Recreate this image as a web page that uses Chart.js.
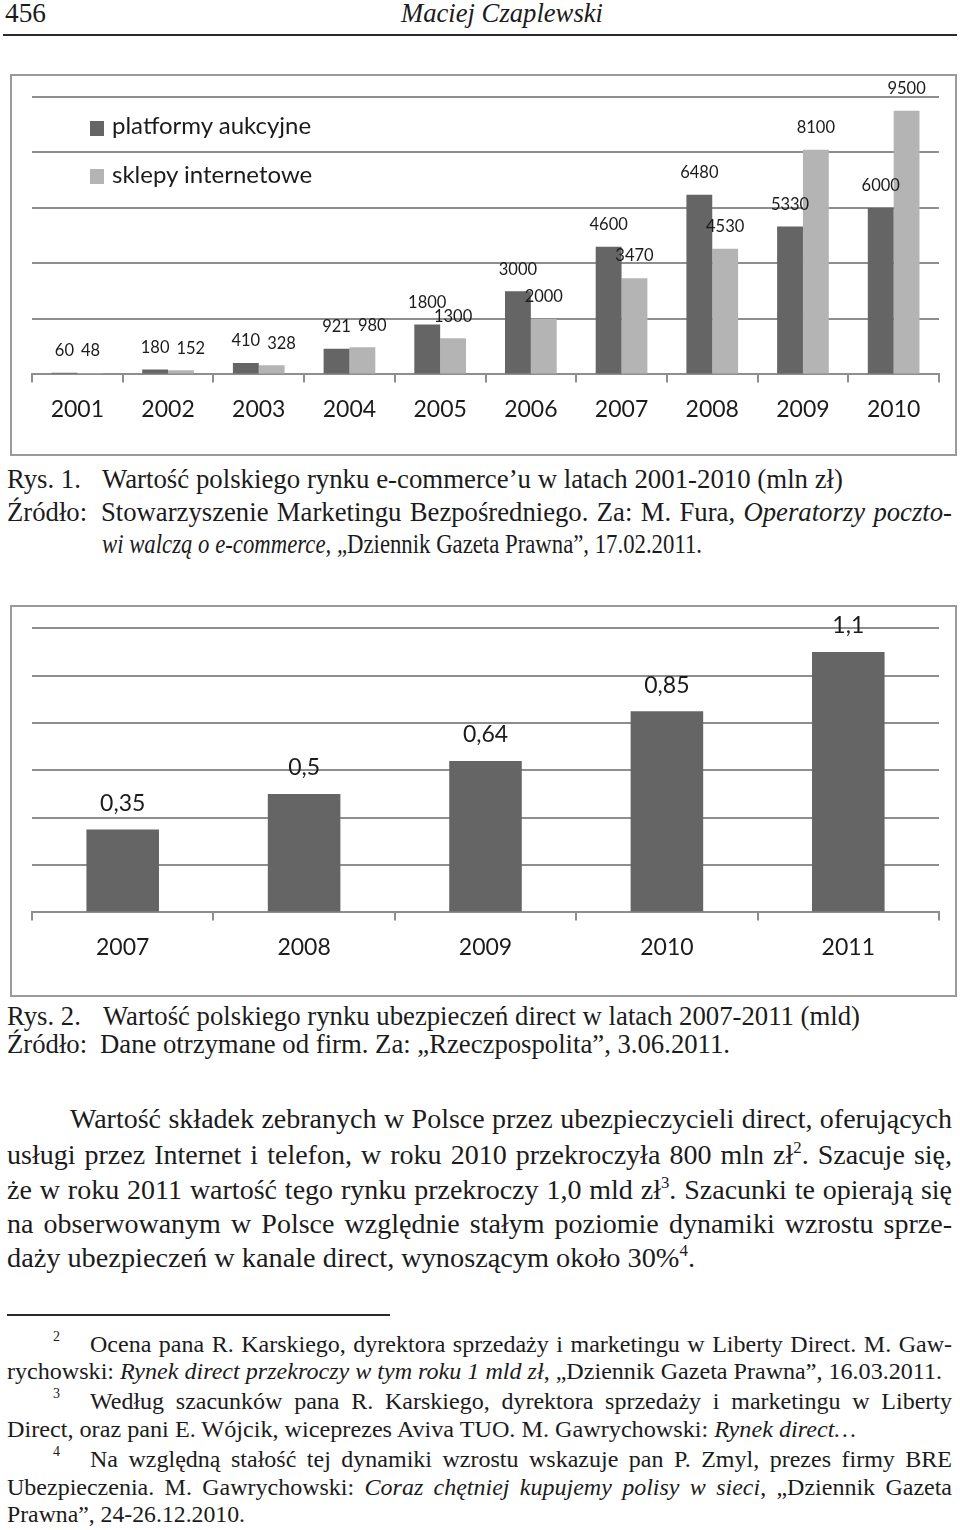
<!DOCTYPE html>
<html lang="pl">
<head>
<meta charset="utf-8">
<script src="https://cdn.jsdelivr.net/npm/chart.js@4"></script>
<style>
body{margin:0;width:960px;height:1530px;position:relative;background:#fff;color:#1b1b1b;font-family:"Liberation Serif",serif;overflow:hidden}
.ln{position:absolute;white-space:nowrap;line-height:1}
.cap{font-size:26.7px}
.txt{font-size:28px}
.fn{font-size:24px}
.fnum{font-size:14px}
sup{font-size:0.6em;vertical-align:0;position:relative;top:-0.6em;line-height:0}
.rule{position:absolute;background:#2a2a2a}
.box{position:absolute;border:2px solid #9a9a9a;box-sizing:border-box}
.cw{position:absolute}
.leg{position:absolute;font-family:Lato,sans-serif;font-size:24px;line-height:28px;height:28px;white-space:nowrap}
.sq{position:absolute;width:14px;height:15px}
</style>
</head>
<body>

<!-- header -->
<div class="ln cap" data-b="22" data-w="41" style="left:5px">456</div>
<div class="ln cap" data-b="22" data-w="202" style="left:401px"><i>Maciej Czaplewski</i></div>
<div class="rule" style="left:3px;top:34px;width:954px;height:2px"></div>

<!-- chart 1 -->
<div class="box" style="left:10px;top:74px;width:947px;height:382px"></div>
<div class="cw" style="left:10px;top:74px;width:947px;height:382px"><canvas id="c1"></canvas></div>
<div class="sq" style="left:90px;top:121px;background:#656566"></div>
<div class="leg" style="left:112px;top:111px">platformy aukcyjne</div>
<div class="sq" style="left:90px;top:169px;background:#b4b4b4"></div>
<div class="leg" style="left:112px;top:160px">sklepy internetowe</div>

<!-- caption 1 -->
<div class="ln cap" data-b="488" style="left:7px">Rys. 1.</div>
<div class="ln cap" data-b="488" data-w="741" style="left:102px">Wartość polskiego rynku e-commerce’u w latach 2001-2010 (mln zł)</div>
<div class="ln cap" data-b="521" style="left:7px">Źródło:</div>
<div class="ln cap" data-b="521" data-w="851" data-m="j" style="left:101px">Stowarzyszenie Marketingu Bezpośredniego. Za: M. Fura, <i>Operatorzy poczto-</i></div>
<div class="ln cap" data-b="553" data-w="600" style="left:102px"><i>wi walczą o e-commerce</i>, „Dziennik Gazeta Prawna”, 17.02.2011.</div>

<!-- chart 2 -->
<div class="box" style="left:10px;top:605px;width:947px;height:392px"></div>
<div class="cw" style="left:10px;top:605px;width:947px;height:392px"><canvas id="c2"></canvas></div>

<!-- caption 2 -->
<div class="ln cap" data-b="1025" style="left:7px">Rys. 2.</div>
<div class="ln cap" data-b="1025" data-w="757" style="left:103px">Wartość polskiego rynku ubezpieczeń direct w latach 2007-2011 (mld)</div>
<div class="ln cap" data-b="1053" style="left:7px">Źródło:</div>
<div class="ln cap" data-b="1053" data-w="630" style="left:100px">Dane otrzymane od firm. Za: „Rzeczpospolita”, 3.06.2011.</div>

<!-- paragraph -->
<div class="ln txt" data-b="1128" data-w="882" data-m="j" style="left:70px">Wartość składek zebranych w Polsce przez ubezpieczycieli direct, oferujących</div>
<div class="ln txt" data-b="1164" data-w="945" data-m="j" style="left:7px">usługi przez Internet i telefon, w roku 2010 przekroczyła 800 mln zł<sup>2</sup>. Szacuje się,</div>
<div class="ln txt" data-b="1199" data-w="945" data-m="j" style="left:7px">że w roku 2011 wartość tego rynku przekroczy 1,0 mld zł<sup>3</sup>. Szacunki te opierają się</div>
<div class="ln txt" data-b="1233" data-w="945" data-m="j" style="left:7px">na obserwowanym w Polsce względnie stałym poziomie dynamiki wzrostu sprze-</div>
<div class="ln txt" data-b="1267" data-w="688" style="left:7px">daży ubezpieczeń w kanale direct, wynoszącym około 30%<sup>4</sup>.</div>

<!-- footnotes -->
<div class="rule" style="left:7px;top:1314px;width:383px;height:2px"></div>
<div class="ln fnum" data-b="1342" style="left:53px">2</div>
<div class="ln fn" data-b="1352" data-w="862" data-m="j" style="left:90px">Ocena pana R. Karskiego, dyrektora sprzedaży i marketingu w Liberty Direct. M. Gaw-</div>
<div class="ln fn" data-b="1379" data-w="935" style="left:7px">rychowski: <i>Rynek direct przekroczy w tym roku 1 mld zł</i>, „Dziennik Gazeta Prawna”, 16.03.2011.</div>
<div class="ln fnum" data-b="1399" style="left:53px">3</div>
<div class="ln fn" data-b="1409" data-w="862" data-m="j" style="left:90px">Według szacunków pana R. Karskiego, dyrektora sprzedaży i marketingu w Liberty</div>
<div class="ln fn" data-b="1437" data-w="849" style="left:7px">Direct, oraz pani E. Wójcik, wiceprezes Aviva TUO. M. Gawrychowski: <i>Rynek direct…</i></div>
<div class="ln fnum" data-b="1457" style="left:53px">4</div>
<div class="ln fn" data-b="1467" data-w="862" data-m="j" style="left:90px">Na względną stałość tej dynamiki wzrostu wskazuje pan P. Zmyl, prezes firmy BRE</div>
<div class="ln fn" data-b="1495" data-w="945" data-m="j" style="left:7px">Ubezpieczenia. M. Gawrychowski: <i>Coraz chętniej kupujemy polisy w sieci</i>, „Dziennik Gazeta</div>
<div class="ln fn" data-b="1522" data-w="238" style="left:7px">Prawna”, 24-26.12.2010.</div>

<script>
// Rys. 1 - e-commerce (mln zł)
var years1 = ['2001', '2002', '2003', '2004', '2005', '2006', '2007', '2008', '2009', '2010'];
var platformy = [60, 180, 410, 921, 1800, 3000, 4600, 6480, 5330, 6000];
var sklepy = [48, 152, 328, 980, 1300, 2000, 3470, 4530, 8100, 9500];

// Rys. 2 - ubezpieczenia direct (mld)
var years2 = ['2007', '2008', '2009', '2010', '2011'];
var ubezpieczenia = [0.35, 0.5, 0.64, 0.85, 1.1];

var dark = '#656566';
var light = '#b4b4b4';
var gridColor = '#8e8e8e';

// fit text lines to the scan
document.querySelectorAll('.ln').forEach(function (el) {
    var fs = parseFloat(getComputedStyle(el).fontSize);
    el.style.top = (+el.dataset.b - 0.8375 * fs) + 'px';
    var w = +el.dataset.w;
    if (!w) return;
    var nat = el.getBoundingClientRect().width;
    if (el.dataset.m === 'j' && nat < w) {
        el.style.width = w + 'px';
        el.style.whiteSpace = 'normal';
        el.style.textAlign = 'justify';
        el.style.textAlignLast = 'justify';
    } else {
        el.style.transformOrigin = '0 0';
        el.style.transform = 'scaleX(' + (w / nat) + ')';
    }
});

// numbers above bars; a label that would collide with the one on its left is nudged right
var valueLabels = {
    id: 'valueLabels',
    afterDatasetsDraw: function (chart, args, opts) {
        var ctx = chart.ctx;
        ctx.save();
        ctx.font = opts.font;
        ctx.fillStyle = '#1b1b1b';
        ctx.textAlign = 'center';
        ctx.textBaseline = 'middle';
        var prev = [];
        chart.data.datasets.forEach(function (ds, i) {
            chart.getDatasetMeta(i).data.forEach(function (bar, j) {
                var txt = opts.format(ds.data[j]);
                var w = ctx.measureText(txt).width;
                var x = bar.x, y = bar.y - opts.offset;
                var p = prev[j];
                if (p && Math.abs(p.y - y) < 13 && x - w / 2 < p.right + 7) {
                    x = p.right + 7 + w / 2;
                }
                ctx.fillText(txt, x, y);
                prev[j] = { y: y, right: x + w / 2 };
            });
        });
        ctx.restore();
    }
};

function axes(max, step, font) {
    return {
        x: {
            grid: { display: true, drawOnChartArea: false, drawTicks: true, tickLength: 8, color: gridColor, lineWidth: 2 },
            border: { display: true, color: gridColor, width: 2 },
            ticks: { color: '#1b1b1b', font: { family: 'Lato', size: font }, padding: 13, maxRotation: 0 }
        },
        y: {
            min: 0,
            max: max,
            ticks: { display: false, stepSize: step },
            grid: { color: gridColor, lineWidth: 2, drawTicks: false },
            border: { display: false }
        }
    };
}

Chart.defaults.animation = false;

new Chart(document.getElementById('c1'), {
    type: 'bar',
    data: {
        labels: years1,
        datasets: [
            { label: 'platformy aukcyjne', data: platformy, backgroundColor: dark },
            { label: 'sklepy internetowe', data: sklepy, backgroundColor: light }
        ]
    },
    options: {
        responsive: true,
        maintainAspectRatio: false,
        categoryPercentage: 0.57,
        barPercentage: 1,
        layout: { padding: { left: 22, right: 18, top: 23, bottom: 20 } },
        plugins: {
            legend: { display: false },
            tooltip: { enabled: false },
            valueLabels: { font: '16.5px Lato', offset: 22, format: function (v) { return String(v); } }
        },
        scales: axes(10000, 2000, 23)
    },
    plugins: [valueLabels]
});

new Chart(document.getElementById('c2'), {
    type: 'bar',
    data: {
        labels: years2,
        datasets: [
            { label: 'ubezpieczenia direct', data: ubezpieczenia, backgroundColor: dark }
        ]
    },
    options: {
        responsive: true,
        maintainAspectRatio: false,
        categoryPercentage: 1,
        barPercentage: 0.4,
        layout: { padding: { left: 22, right: 18, top: 23.3, bottom: 23 } },
        plugins: {
            legend: { display: false },
            tooltip: { enabled: false },
            valueLabels: { font: '23px Lato', offset: 26, format: function (v) { return String(v).replace('.', ','); } }
        },
        scales: axes(1.2, 0.2, 23)
    },
    plugins: [valueLabels]
});
</script>
</body>
</html>
